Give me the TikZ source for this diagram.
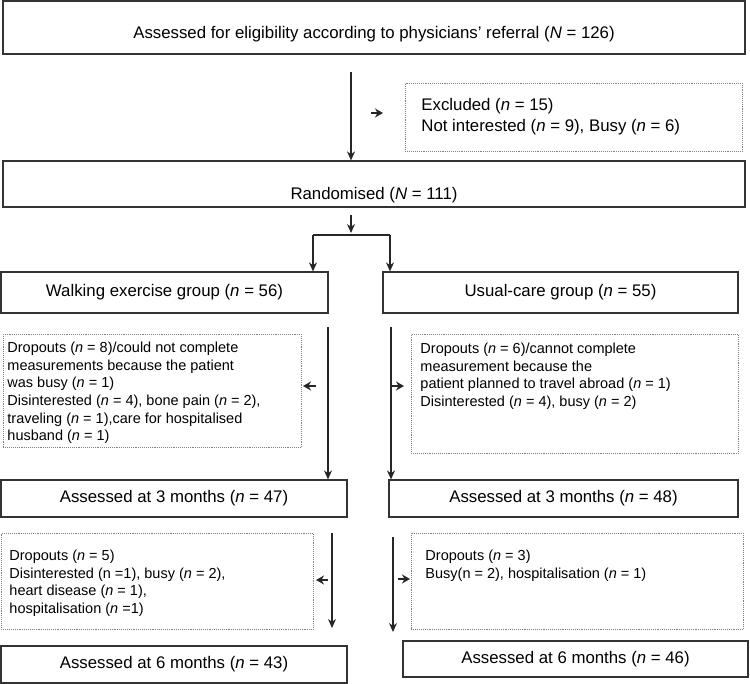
\documentclass[tikz,border=0pt]{standalone}
\usepackage{fontspec}
\setmainfont{Liberation Sans}
\usetikzlibrary{arrows.meta,positioning}

% fixed-height box with the first baseline at #3 below the top
\newcommand{\dropnote}[4]{\parbox[t][#1][t]{#2}{\rule{0pt}{#3}#4}}

\tikzset{
  stagebox/.style={draw=black!80, line width=1.2pt, inner sep=0pt, font=\fontsize{16.8}{20}\selectfont},
  dropbox/.style={draw=black!50, densely dotted, line width=0.9pt, anchor=north west, inner ysep=0pt, font=\fontsize{14.5}{17.7}\selectfont},
  flow/.style={-{Stealth[length=9pt,width=8pt]}, line width=1.3pt, draw=black!85},
  tick/.style={-{Stealth[length=8pt,width=9pt]}, line width=1.6pt, draw=black!85},
}

\begin{document}
\begin{tikzpicture}[x=1pt,y=-1pt]
\useasboundingbox (0,0) rectangle (750,684);

% enrolment
\node[stagebox, minimum width=742pt, minimum height=53pt, text height=22pt, text depth=0pt] (elig) at (374,27.5) {Assessed for eligibility according to physicians' referral (\textit{N} = 126)};
\node[dropbox, inner xsep=16pt, font=\fontsize{16.8}{21}\selectfont] (excl) at (405,83) {\dropnote{68pt}{305pt}{27pt}{Excluded (\textit{n} = 15)\\Not interested (\textit{n} = 9), Busy (\textit{n} = 6)}};
\node[stagebox, minimum width=742pt, minimum height=46pt, text height=32pt, text depth=0pt] (rand) at (374,184) {Randomised (\textit{N} = 111)};

% groups
\node[stagebox, minimum width=327pt, minimum height=41pt] (walk) at (164.5,292.5) {Walking exercise group (\textit{n} = 56)};
\node[stagebox, minimum width=355pt, minimum height=41pt] (usual) at (560.5,292.5) {Usual-care group (\textit{n} = 55)};

\node[dropbox, inner xsep=4pt] (walkdrop) at (3,334) {\dropnote{113pt}{290pt}{18pt}{Dropouts (\textit{n} = 8)/could not complete\\
measurements because the patient\\
was busy (\textit{n} = 1)\\
Disinterested (\textit{n} = 4), bone pain (\textit{n} = 2),\\
traveling (\textit{n} = 1),care for hospitalised\\
husband (\textit{n} = 1)}};
\node[dropbox, inner xsep=9pt] (usualdrop) at (411,334) {\dropnote{119pt}{309pt}{19pt}{Dropouts (\textit{n} = 6)/cannot complete\\
measurement because the\\
patient planned to travel abroad (\textit{n} = 1)\\
Disinterested (\textit{n} = 4), busy (\textit{n} = 2)}};

% 3 months
\node[stagebox, minimum width=346pt, minimum height=37pt] (walkthree) at (174,498.5) {Assessed at 3 months (\textit{n} = 47)};
\node[stagebox, minimum width=349pt, minimum height=37pt] (usualthree) at (563.5,498.5) {Assessed at 3 months (\textit{n} = 48)};

\node[dropbox, inner xsep=8pt] (walkdroptwo) at (1,533) {\dropnote{96pt}{296pt}{27pt}{Dropouts (\textit{n} = 5)\\
Disinterested (n =1), busy (\textit{n} = 2),\\
heart disease (\textit{n} = 1),\\
hospitalisation (\textit{n} =1)}};
\node[dropbox, inner xsep=14pt] (usualdroptwo) at (411,533) {\dropnote{96pt}{304pt}{27pt}{Dropouts (\textit{n} = 3)\\
Busy(n = 2), hospitalisation (\textit{n} = 1)}};

% 6 months
\node[stagebox, minimum width=346pt, minimum height=37pt] (walksix) at (174,664.5) {Assessed at 6 months (\textit{n} = 43)};
\node[stagebox, minimum width=345pt, minimum height=36pt] (usualsix) at (575.5,659) {Assessed at 6 months (\textit{n} = 46)};

% connectors
\coordinate (m0) at (351,72);
\coordinate (e0) at (371,113);
\coordinate (e1) at (383,113);
\coordinate (r0) at (351,215);
\coordinate (r1) at (351,233);
\coordinate (brL) at (313,235);
\coordinate (brR) at (390,235);
\coordinate (wl0) at (328,327);
\coordinate (wa0) at (316,386);
\coordinate (wa1) at (303,386);
\coordinate (ul0) at (391,327);
\coordinate (ua0) at (392,386);
\coordinate (ua1) at (404,386);
\coordinate (wm0) at (332,533);
\coordinate (wm1) at (332,628);
\coordinate (wb0) at (328,580);
\coordinate (wb1) at (316,580);
\coordinate (um0) at (393,537);
\coordinate (um1) at (393,632);
\coordinate (ub0) at (398,579);
\coordinate (ub1) at (410,579);

\draw[flow] (m0) -- (rand.north -| m0);
\draw[tick] (e0) -- (e1);
\draw[flow] (r0) -- (r1);
\draw[line width=1.3pt, draw=black!85] (brL) -- (brR);
\draw[flow] (brL) -- (walk.north -| brL);
\draw[flow] (brR) -- (usual.north -| brR);
\draw[flow] (wl0) -- (walkthree.north -| wl0);
\draw[tick] (wa0) -- (wa1);
\draw[flow] (ul0) -- (usualthree.north -| ul0);
\draw[tick] (ua0) -- (ua1);
\draw[flow] (wm0) -- (wm1);
\draw[tick] (wb0) -- (wb1);
\draw[flow] (um0) -- (um1);
\draw[tick] (ub0) -- (ub1);
\end{tikzpicture}
\end{document}
